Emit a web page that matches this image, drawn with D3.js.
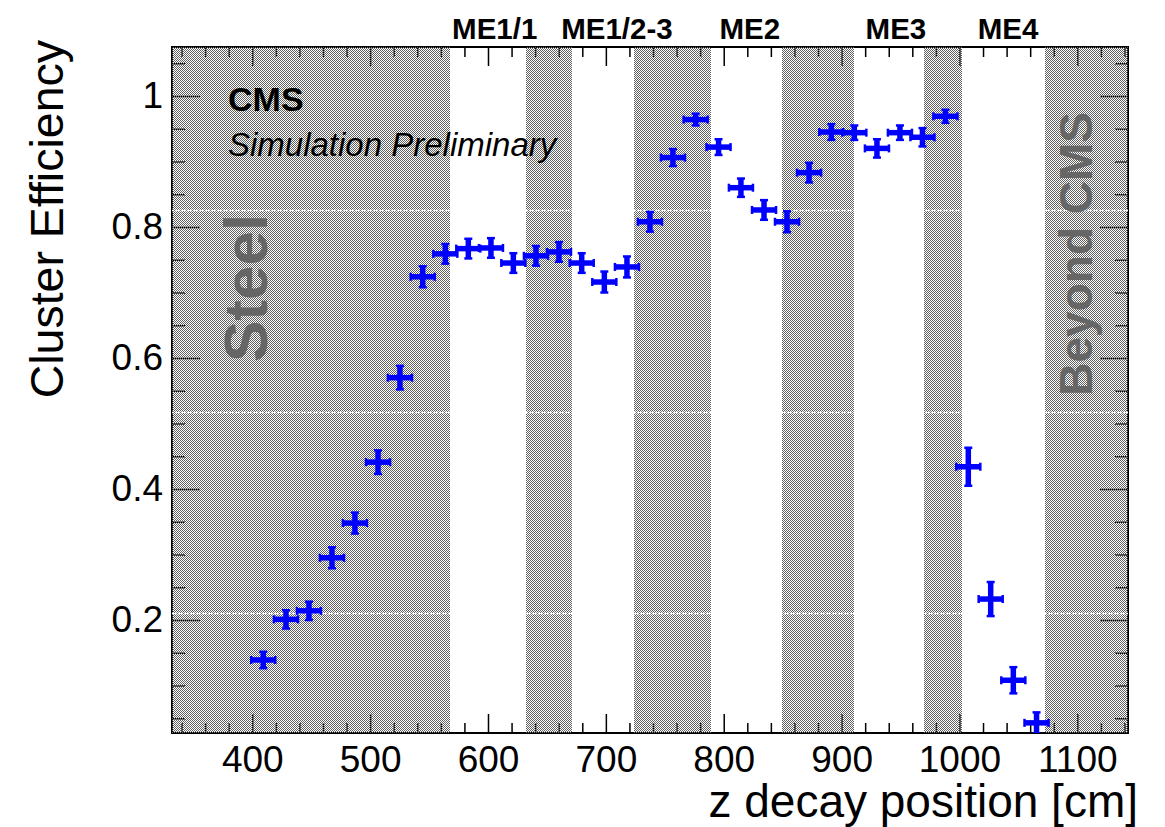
<!DOCTYPE html>
<html lang="en">
  <head>
    <meta charset="UTF-8" />
    <title>Cluster Efficiency vs z decay position</title>
    <script src="https://cdnjs.cloudflare.com/ajax/libs/d3/7.8.5/d3.min.js"></script>
    <style>
      body {
        margin: 0;
        background: #fff;
      }
      svg {
        display: block;
        font-family: 'Liberation Sans', Arial, Helvetica, sans-serif;
      }
    </style>
  </head>
  <body>
    <svg width="1165" height="827"></svg>
    <script>
      // z decay position bin centres [cm]
      const zPos = [
        409.3, 428.6, 448.1, 467.6, 487.1, 506.7, 525.3, 544.6, 563.8, 583.3, 602.5, 621.5, 640.7,
        660.2, 679.5, 698.7, 717.9, 737.4, 756.9, 776.2, 795.6, 814.6, 834.2, 853.7, 872.4, 891.3,
        910.8, 930.0, 949.5, 968.6, 988.1, 1007.5, 1026.5, 1045.7, 1065.4,
      ];
      // cluster efficiency per bin
      const eff = [
        0.139, 0.201, 0.214, 0.295, 0.348, 0.441, 0.57, 0.724, 0.759, 0.767, 0.768, 0.745, 0.756,
        0.762, 0.745, 0.716, 0.739, 0.808, 0.906, 0.964, 0.922, 0.86, 0.826, 0.808, 0.883, 0.945,
        0.944, 0.92, 0.944, 0.937, 0.969, 0.434, 0.232, 0.108, 0.043,
      ];
      const effErr = [
        0.0125, 0.014, 0.014, 0.016, 0.016, 0.018, 0.018, 0.016, 0.015, 0.015, 0.015, 0.015, 0.015,
        0.015, 0.015, 0.016, 0.016, 0.015, 0.013, 0.009, 0.012, 0.014, 0.015, 0.016, 0.015, 0.012,
        0.011, 0.014, 0.011, 0.014, 0.01, 0.029, 0.026, 0.02, 0.016,
      ];
      const halfBin = 10.2;

      // steel / material regions [cm]
      const steelBands = [
        [331.9, 567.7],
        [632, 671],
        [723.9, 789.2],
        [849.4, 910.5],
        [969.9, 1002.1],
        [1072.6, 1143],
      ];
      const stations = ['ME1/1', 'ME1/2-3', 'ME2', 'ME3', 'ME4'];
      const stationPos = [605.7, 709.4, 822.2, 946.1, 1041.2];

      const xMajor = [400, 500, 600, 700, 800, 900, 1000, 1100];
      const xMinor = d3.range(340, 1143, 20).filter(d => d % 100 !== 0);
      const yMajor = [0.2, 0.4, 0.6, 0.8, 1];
      const yMinor = [0.05, 0.1, 0.15, 0.25, 0.3, 0.35, 0.45, 0.5, 0.55, 0.65, 0.7, 0.75, 0.85, 0.9, 0.95, 1.05];
      // white seams in the fill pattern
      const seams = [0.826, 0.518, 0.2107];

      const svg = d3.select('svg');
      const m = { left: 172, right: 1128, top: 47, bottom: 733 };

      const x = d3.scaleLinear().domain([331.9, 1143]).range([m.left, m.right]);
      const y = d3.scaleLinear().domain([0.0275, 1.0748]).range([m.bottom, m.top]);

      // dither pattern like ROOT fill style
      const defs = svg.append('defs');
      const pat = defs
        .append('pattern')
        .attr('id', 'dots')
        .attr('patternUnits', 'userSpaceOnUse')
        .attr('width', 2)
        .attr('height', 2);
      pat.append('rect').attr('x', 0).attr('y', 0).attr('width', 1).attr('height', 1).attr('fill', '#606060');
      pat.append('rect').attr('x', 1).attr('y', 1).attr('width', 1).attr('height', 1).attr('fill', '#606060');

      defs
        .append('clipPath')
        .attr('id', 'frame')
        .append('rect')
        .attr('x', m.left)
        .attr('y', m.top)
        .attr('width', m.right - m.left)
        .attr('height', m.bottom - m.top);

      // axes (ticks inside the frame, mirrored on top/right)
      function styleAxis(g) {
        g.select('.domain').remove();
        g.selectAll('.tick line').attr('stroke', '#000').attr('stroke-width', 1.5);
        g.selectAll('text').attr('fill', '#000').attr('font-size', 37);
      }
      svg
        .append('g')
        .attr('transform', `translate(0,${m.bottom})`)
        .call(d3.axisBottom(x).tickValues(xMajor).tickSize(-19).tickPadding(13).tickFormat(d3.format('d')))
        .call(styleAxis);
      svg
        .append('g')
        .attr('transform', `translate(0,${m.bottom})`)
        .call(d3.axisBottom(x).tickValues(xMinor).tickSize(-10).tickFormat(''))
        .call(styleAxis);
      svg
        .append('g')
        .attr('transform', `translate(0,${m.top})`)
        .call(d3.axisTop(x).tickValues(xMajor).tickSize(-19).tickFormat(''))
        .call(styleAxis);
      svg
        .append('g')
        .attr('transform', `translate(0,${m.top})`)
        .call(d3.axisTop(x).tickValues(xMinor).tickSize(-10).tickFormat(''))
        .call(styleAxis);
      svg
        .append('g')
        .attr('transform', `translate(${m.left},0)`)
        .call(d3.axisLeft(y).tickValues(yMajor).tickSize(-28).tickPadding(9).tickFormat(d3.format('')))
        .call(styleAxis);
      svg
        .append('g')
        .attr('transform', `translate(${m.left},0)`)
        .call(d3.axisLeft(y).tickValues(yMinor).tickSize(-13).tickFormat(''))
        .call(styleAxis);
      svg
        .append('g')
        .attr('transform', `translate(${m.right},0)`)
        .call(d3.axisRight(y).tickValues(yMajor).tickSize(-28).tickFormat(''))
        .call(styleAxis);
      svg
        .append('g')
        .attr('transform', `translate(${m.right},0)`)
        .call(d3.axisRight(y).tickValues(yMinor).tickSize(-13).tickFormat(''))
        .call(styleAxis);

      // frame
      svg
        .append('rect')
        .attr('x', m.left)
        .attr('y', m.top)
        .attr('width', m.right - m.left)
        .attr('height', m.bottom - m.top)
        .attr('fill', 'none')
        .attr('stroke', '#000')
        .attr('stroke-width', 2);

      // shaded material regions
      svg
        .append('g')
        .selectAll('rect')
        .data(steelBands)
        .enter()
        .append('rect')
        .attr('x', d => Math.round(x(d[0])))
        .attr('y', m.top)
        .attr('width', d => Math.round(x(d[1])) - Math.round(x(d[0])))
        .attr('height', m.bottom - m.top)
        .attr('fill', 'url(#dots)');

      svg
        .append('g')
        .selectAll('line')
        .data(seams)
        .enter()
        .append('line')
        .attr('x1', m.left)
        .attr('x2', m.right)
        .attr('y1', d => Math.round(y(d)) + 0.5)
        .attr('y2', d => Math.round(y(d)) + 0.5)
        .attr('stroke', '#fff')
        .attr('stroke-width', 1.5)
        .attr('stroke-dasharray', '2,1');

      // region labels
      svg
        .append('text')
        .attr('transform', `translate(${x(393) + 23},${y(0.707)}) rotate(-90)`)
        .attr('text-anchor', 'middle')
        .attr('font-size', 62)
        .attr('font-weight', 'bold')
        .attr('fill', '#666')
        .text('Steel');
      svg
        .append('text')
        .attr('transform', `translate(${x(1098) + 17},${y(0.759)}) rotate(-90)`)
        .attr('text-anchor', 'middle')
        .attr('font-size', 46)
        .attr('font-weight', 'bold')
        .attr('fill', '#666')
        .text('Beyond CMS');

      svg
        .append('g')
        .selectAll('text')
        .data(stations)
        .enter()
        .append('text')
        .attr('x', (d, i) => x(stationPos[i]))
        .attr('y', 39)
        .attr('text-anchor', 'middle')
        .attr('font-size', 29.5)
        .attr('font-weight', 'bold')
        .text(d => d);

      svg
        .append('text')
        .attr('x', 228)
        .attr('y', 111)
        .attr('font-size', 34)
        .attr('font-weight', 'bold')
        .text('CMS');
      svg
        .append('text')
        .attr('x', 228)
        .attr('y', 156)
        .attr('font-size', 33)
        .attr('font-style', 'italic')
        .text('Simulation Preliminary');

      // axis titles
      svg
        .append('text')
        .attr('x', 1138)
        .attr('y', 817)
        .attr('text-anchor', 'end')
        .attr('font-size', 46)
        .text('z decay position [cm]');
      svg
        .append('text')
        .attr('transform', `translate(63,40) rotate(-90)`)
        .attr('text-anchor', 'end')
        .attr('font-size', 46.5)
        .text('Cluster Efficiency');

      // data points with error bars
      const pts = svg
        .append('g')
        .attr('clip-path', 'url(#frame)')
        .selectAll('g')
        .data(zPos.map((z, i) => ({ z, e: eff[i], err: effErr[i] })))
        .enter()
        .append('g')
        .attr('stroke', '#0000ff');

      pts
        .append('line')
        .attr('x1', d => x(d.z - halfBin))
        .attr('x2', d => x(d.z + halfBin))
        .attr('y1', d => y(d.e))
        .attr('y2', d => y(d.e))
        .attr('stroke-width', 5.5);
      pts
        .append('line')
        .attr('x1', d => x(d.z))
        .attr('x2', d => x(d.z))
        .attr('y1', d => y(d.e - d.err))
        .attr('y2', d => y(d.e + d.err))
        .attr('stroke-width', 5.5);
      // end caps
      [-1, 1].forEach(s => {
        pts
          .append('line')
          .attr('x1', d => x(d.z + s * halfBin))
          .attr('x2', d => x(d.z + s * halfBin))
          .attr('y1', d => y(d.e) - 4)
          .attr('y2', d => y(d.e) + 4)
          .attr('stroke-width', 2.5);
        pts
          .append('line')
          .attr('x1', d => x(d.z) - 4)
          .attr('x2', d => x(d.z) + 4)
          .attr('y1', d => y(d.e + s * d.err))
          .attr('y2', d => y(d.e + s * d.err))
          .attr('stroke-width', 2.5);
      });
    </script>
  </body>
</html>
